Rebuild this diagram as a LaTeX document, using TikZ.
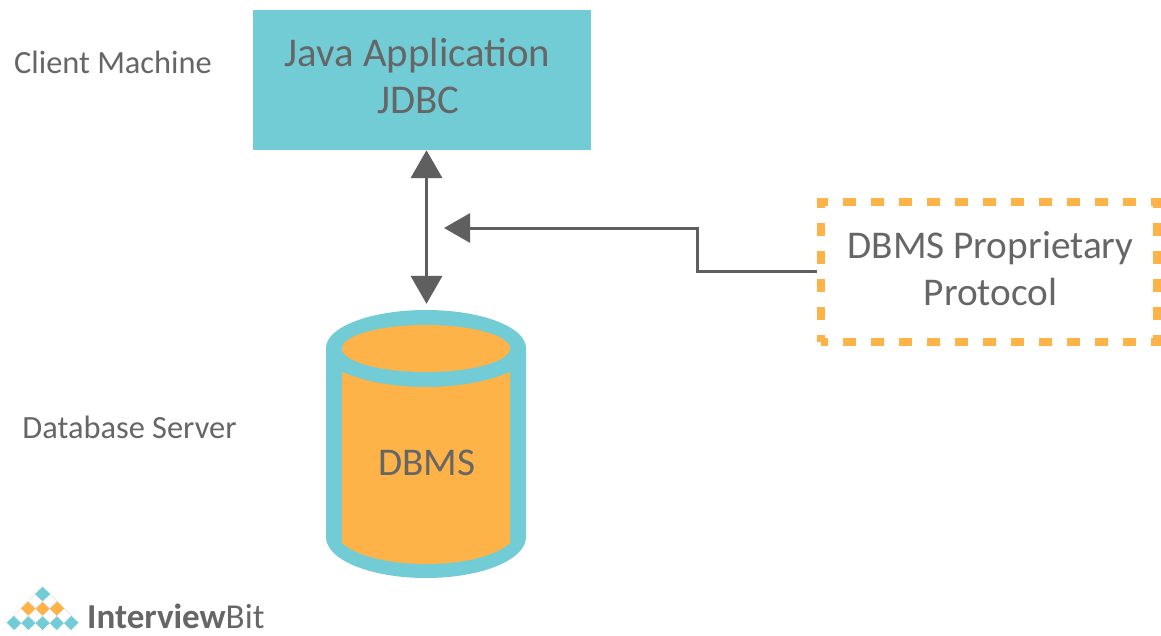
\documentclass[tikz,border=0pt]{standalone}
\usepackage{fontspec}
\setmainfont{Carlito}
\usetikzlibrary{arrows.meta}
\definecolor{tealc}{HTML}{72CCD6}
\definecolor{orangec}{HTML}{FDB347}
\definecolor{greyc}{HTML}{666666}
\definecolor{linec}{HTML}{5F5F5F}
\tikzset{
  x=1pt,y=-1pt,
  bigtext/.style={text=greyc,font=\fontsize{39.3}{47}\selectfont,inner sep=0pt,align=center},
  apptext/.style={text=greyc,font=\fontsize{40.8}{48}\selectfont,inner sep=0pt,align=center},
  sidetext/.style={text=greyc,font=\fontsize{32.4}{38}\selectfont,inner sep=0pt},
  conn/.style={draw=linec,line width=3pt,-{Triangle[length=26pt,width=29pt]}},
  dconn/.style={draw=linec,line width=3.8pt,{Triangle[length=28pt,width=31pt]}-{Triangle[length=28pt,width=31pt]}},
  tealdia/.style={fill=tealc},
  orangedia/.style={fill=orangec},
  whitedia/.style={fill=white,draw=black!12,line width=.5pt},
}
\newcommand{\logodia}[3]{\path[#3] (#1-7.5,#2) -- (#1,#2-7.3) -- (#1+7.5,#2) -- (#1,#2+7.3) -- cycle;}
\begin{document}
\begin{tikzpicture}
\useasboundingbox (0,0) rectangle (1161,635);
\fill[white] (0,0) rectangle (1161,635);
% application box
\node[fill=tealc,minimum width=338pt,minimum height=140pt,inner sep=0pt,anchor=center] (app) at (422,80) {};
\node[apptext] (java) at (417.5,55.5) {Java Application};
\node[apptext] (jdbc) at (418.5,100.5) {JDBC};
\node[sidetext] (client) at (113,62) {Client Machine};
\node[sidetext] (server) at (129.5,427) {Database Server};
% cylinder
\fill[tealc] (326,348) .. controls (326,327) and (371,310) .. (426,310) .. controls (481,310) and (526,327) .. (526,348)
  -- (526,537) .. controls (526,560) and (481,578) .. (426,578) .. controls (371,578) and (326,560) .. (326,537) -- cycle;
\fill[orangec] (426,348.5) ellipse [x radius=84, y radius=23.5];
\fill[orangec] (342,372) .. controls (365,382) and (395,387) .. (426,387) .. controls (457,387) and (487,382) .. (510,372)
  -- (510,543) .. controls (496,556) and (463,564) .. (426,564) .. controls (389,564) and (356,556) .. (342,543) -- cycle;
\node[minimum width=200pt,minimum height=274pt,inner sep=0pt] (cyl) at (426.5,441) {};
\node[bigtext] (dbms) at (427,463) {DBMS};
% protocol box
\node[draw=orangec,line width=8pt,dash pattern=on 13pt off 15pt,dash phase=6.5pt,minimum width=336pt,minimum height=140pt,inner sep=0pt] (proto) at (989,271.7) {};
\node[bigtext] (ptext) at (990.5,269) {DBMS Proprietary\\Protocol};
% connectors
\coordinate (tip) at (444,228);
\draw[dconn] (app.south -| cyl.north) -- (cyl.north);
\draw[conn] (proto.west) -- (697,271.7) -- (697,228) -- (tip);
% logo
\foreach \xx in {14.2,28.4,42.6,56.8,71} {\logodia{\xx}{622.7}{tealdia}}
\foreach \xx in {21.3,35.5,49.7,63.9} {\logodia{\xx}{615.5}{whitedia}}
\foreach \xx in {28.4,42.6,56.8} {\logodia{\xx}{608.3}{orangedia}}
\foreach \xx in {35.5,49.7} {\logodia{\xx}{601.1}{whitedia}}
\logodia{42.6}{594}{tealdia}
\node[text=greyc,font=\fontsize{35}{40}\selectfont,inner sep=0pt,anchor=west] (logo) at (87,616.5) {\textbf{Interview}Bit};
\end{tikzpicture}
\end{document}
